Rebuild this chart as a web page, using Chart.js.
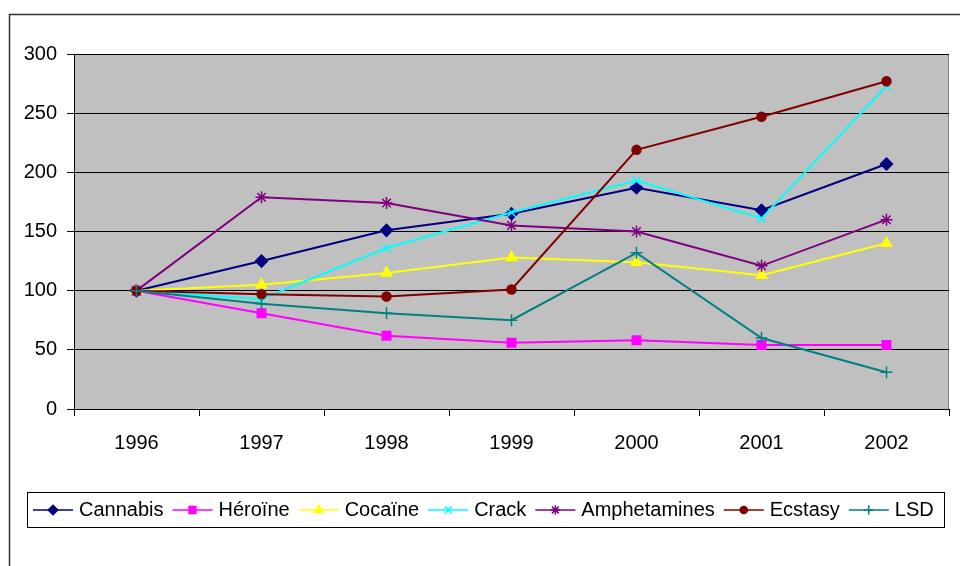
<!DOCTYPE html>
<html>
<head>
<meta charset="utf-8">
<script src="https://cdn.jsdelivr.net/npm/chart.js@4/dist/chart.umd.min.js"></script>
<style>
  html, body { margin: 0; padding: 0; background: #fff; }
  #wrap { width: 960px; height: 566px; position: relative; }
</style>
</head>
<body>
<div id="wrap"><canvas id="c" width="960" height="566"></canvas></div>
<script>
// Index of drug-related offences, base 100 in 1996
const years = ['1996', '1997', '1998', '1999', '2000', '2001', '2002'];
const cannabis     = [100, 125, 151, 165, 187, 168, 207];
const heroine      = [100, 81, 62, 56, 58, 54, 54];
const cocaine      = [100, 105, 115, 128, 124, 113, 140];
const crack        = [100, 93, 136, 166, 193, 161, 273];
const amphetamines = [100, 179, 174, 155, 150, 121, 160];
const ecstasy      = [100, 97, 95, 101, 219, 247, 277];
const lsd          = [100, 89, 81, 75, 132, 60, 31];
const yTicks = [0, 50, 100, 150, 200, 250, 300];

const FONT = '"Liberation Sans", Arial, sans-serif';

function series(label, data, color, style, radius) {
  return {
    label, data,
    borderColor: color,
    backgroundColor: color,
    pointBackgroundColor: color,
    pointBorderColor: color,
    pointStyle: style,
    pointRadius: radius,
    pointHoverRadius: radius,
    pointBorderWidth: 1.5,
    borderWidth: 2,
    tension: 0,
    fill: false
  };
}

const datasets = [
  series('Cannabis', cannabis, '#000080', 'rectRot', 6),
  series('Héroïne', heroine, '#FF00FF', 'rect', 6),
  series('Cocaïne', cocaine, '#FFFF00', 'triangle', 6),
  series('Crack', crack, '#00FFFF', 'crossRot', 6),
  series('Amphetamines', amphetamines, '#800080', 'star', 6),
  series('Ecstasy', ecstasy, '#800000', 'circle', 4.5),
  series('LSD', lsd, '#008080', 'cross', 6)
];
// later series are painted above earlier ones
datasets.forEach((d, i) => { d.order = datasets.length - i; });

// grey plot background, right border and outer frame
const frame = {
  id: 'frame',
  beforeDraw(chart) {
    const { ctx, chartArea: a } = chart;
    ctx.save();
    ctx.fillStyle = '#fff';
    ctx.fillRect(0, 0, chart.width, chart.height);
    ctx.fillStyle = '#C0C0C0';
    ctx.fillRect(a.left, a.top, a.right - a.left, a.bottom - a.top);
    ctx.strokeStyle = '#808080';
    ctx.lineWidth = 1;
    ctx.beginPath();
    ctx.moveTo(Math.round(a.right) - 0.5, a.top);
    ctx.lineTo(Math.round(a.right) - 0.5, a.bottom);
    ctx.stroke();
    ctx.strokeStyle = '#333';
    ctx.lineWidth = 1.5;
    ctx.strokeRect(9.5, 14.5, 1200, 1200);
    ctx.restore();
  }
};

// boxed legend along the bottom, each entry a line sample with its marker
const boxLegend = {
  id: 'boxLegend',
  afterDraw(chart) {
    const { ctx } = chart;
    ctx.save();
    ctx.strokeStyle = '#000';
    ctx.lineWidth = 1;
    ctx.strokeRect(27.5, 492.5, 917, 35);
    ctx.font = '20px ' + FONT;
    ctx.textBaseline = 'middle';
    const cy = 510;
    let x = 33;
    chart.data.datasets.forEach(ds => {
      ctx.strokeStyle = ds.borderColor;
      ctx.lineWidth = 1.5;
      ctx.beginPath();
      ctx.moveTo(x, cy);
      ctx.lineTo(x + 40, cy);
      ctx.stroke();
      ctx.fillStyle = ds.pointBackgroundColor;
      ctx.strokeStyle = ds.pointBorderColor;
      ctx.lineWidth = 1.5;
      Chart.helpers.drawPoint(ctx, {
        pointStyle: ds.pointStyle,
        rotation: 0,
        radius: ds.pointRadius * 0.8,
        borderWidth: 1.5
      }, x + 20, cy);
      ctx.fillStyle = '#000';
      ctx.fillText(ds.label, x + 46, cy);
      x += 46 + ctx.measureText(ds.label).width + 9;
    });
    ctx.restore();
  }
};

new Chart(document.getElementById('c'), {
  type: 'line',
  data: { labels: years, datasets },
  plugins: [frame, boxLegend],
  options: {
    responsive: false,
    animation: false,
    devicePixelRatio: 1,
    layout: { padding: { top: 54, right: 11, bottom: 107, left: 0 } },
    plugins: {
      legend: { display: false },
      tooltip: { enabled: false },
      title: { display: false }
    },
    scales: {
      x: {
        type: 'category',
        offset: true,
        afterFit(scale) { scale.height = 50; },
        grid: {
          offset: true,
          drawOnChartArea: false,
          drawTicks: true,
          tickLength: 7,
          color: '#000',
          lineWidth: 1
        },
        border: { display: true, color: '#000', width: 1 },
        ticks: {
          color: '#000',
          font: { family: FONT, size: 20 },
          padding: 15,
          maxRotation: 0
        }
      },
      y: {
        min: 0,
        max: 300,
        afterFit(scale) { scale.width = 74; },
        afterBuildTicks(scale) { scale.ticks = yTicks.map(v => ({ value: v })); },
        grid: {
          drawTicks: true,
          tickLength: 7,
          color: '#000',
          lineWidth: 1
        },
        border: { display: true, color: '#000', width: 1 },
        ticks: {
          color: '#000',
          font: { family: FONT, size: 20 },
          padding: 10
        }
      }
    }
  }
});
</script>
</body>
</html>
